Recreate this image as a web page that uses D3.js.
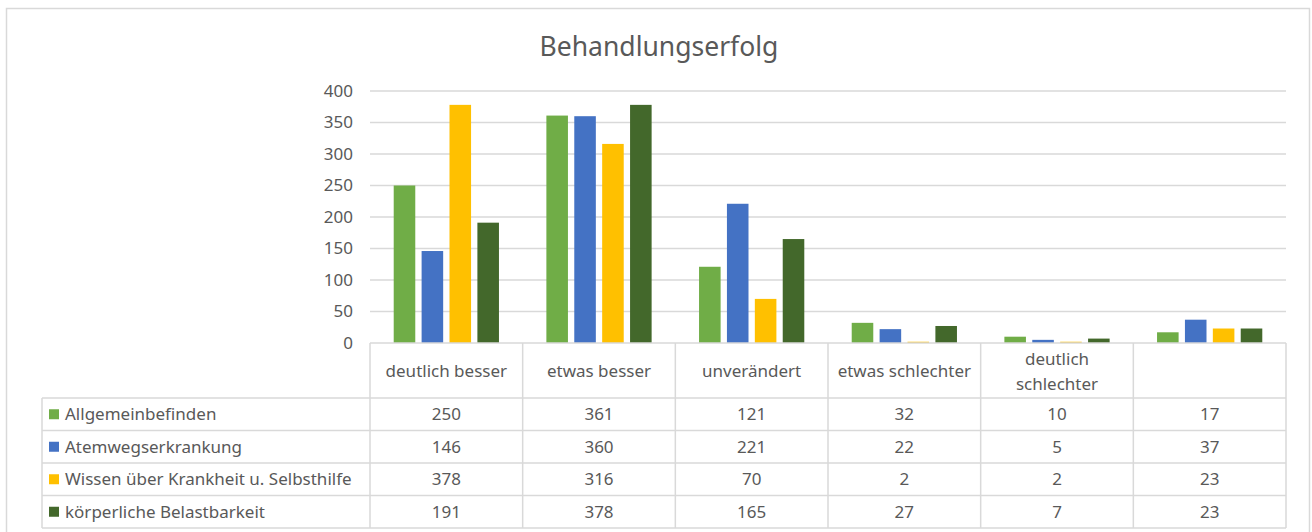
<!DOCTYPE html>
<html>
<head>
<meta charset="utf-8">
<script src="https://cdn.jsdelivr.net/npm/d3@7"></script>
<style>
  body { margin: 0; background: #fff; }
  svg { display: block; font-family: "Segoe UI", "Noto Sans", "Open Sans", sans-serif; }
</style>
</head>
<body>
<div id="chart"></div>
<script>
// Daten
const categories = ["deutlich besser", "etwas besser", "unverändert", "etwas schlechter", "deutlich schlechter", ""];
const seriesNames = ["Allgemeinbefinden", "Atemwegserkrankung", "Wissen über Krankheit u. Selbsthilfe", "körperliche Belastbarkeit"];
const allgemein = [250, 361, 121, 32, 10, 17];
const atemweg = [146, 360, 221, 22, 5, 37];
const wissen = [378, 316, 70, 2, 2, 23];
const koerperlich = [191, 378, 165, 27, 7, 23];
const yTicks = [0, 50, 100, 150, 200, 250, 300, 350, 400];
const colors = ["#70AD47", "#4472C4", "#FFC000", "#43682B"];

const seriesValues = [allgemein, atemweg, wissen, koerperlich];

const width = 1312;
const height = 532;
const plot = { left: 370, right: 1286, top: 91, bottom: 343 };
const tableBottom = 528;
const headerBottom = 398;
const legendLeft = 42;
const textColor = "#595959";
const lineColor = "#D9D9D9";
const fontSize = 17;

const svg = d3.select("#chart").append("svg")
  .attr("width", width)
  .attr("height", height);

// Rahmen
svg.append("rect")
  .attr("x", 6.5).attr("y", 8.5)
  .attr("width", 1303).attr("height", 560)
  .attr("fill", "#fff")
  .attr("stroke", lineColor)
  .attr("stroke-width", 1.5);

// Titel
svg.append("text")
  .attr("x", 659).attr("y", 56)
  .attr("text-anchor", "middle")
  .attr("fill", textColor)
  .attr("font-size", 26.5)
  .text("Behandlungserfolg");

// Skalen
const x0 = d3.scaleBand()
  .domain(d3.range(categories.length))
  .range([plot.left, plot.right])
  .padding(0);

const x1 = d3.scaleBand()
  .domain(d3.range(seriesNames.length))
  .range([0, x0.bandwidth()])
  .paddingInner(0.227)
  .paddingOuter(0.85);

const y = d3.scaleLinear()
  .domain([0, 400])
  .range([plot.bottom, plot.top]);

// Gitterlinien
svg.append("g")
  .selectAll("line")
  .data(yTicks.filter(d => d > 0))
  .join("line")
  .attr("x1", plot.left).attr("x2", plot.right)
  .attr("y1", d => y(d)).attr("y2", d => y(d))
  .attr("stroke", lineColor)
  .attr("stroke-width", 1.5);

// Y-Achse
const yAxis = svg.append("g")
  .attr("transform", `translate(${plot.left - 17},0)`)
  .call(d3.axisLeft(y).tickValues(yTicks).tickSize(0).tickPadding(0));
yAxis.select(".domain").remove();
yAxis.selectAll("text")
  .attr("fill", textColor)
  .attr("font-size", fontSize)
  .attr("font-family", "\"Segoe UI\", \"Noto Sans\", sans-serif");

// Balken
const groups = svg.append("g")
  .selectAll("g")
  .data(categories.map((c, i) => i))
  .join("g")
  .attr("transform", i => `translate(${x0(i)},0)`);

groups.selectAll("rect")
  .data(i => seriesValues.map((vals, s) => ({ s, v: vals[i] })))
  .join("rect")
  .attr("x", d => x1(d.s))
  .attr("y", d => y(d.v))
  .attr("width", x1.bandwidth())
  .attr("height", d => y(0) - y(d.v))
  .attr("fill", d => colors[d.s]);

// Datentabelle
const rowY = d3.scaleBand()
  .domain(d3.range(seriesNames.length))
  .range([headerBottom, tableBottom]);

const table = svg.append("g")
  .attr("stroke", lineColor)
  .attr("stroke-width", 1.5);

// horizontale Linien
table.append("line")
  .attr("x1", plot.left).attr("x2", plot.right)
  .attr("y1", plot.bottom).attr("y2", plot.bottom);
table.selectAll(".hrow")
  .data(d3.range(seriesNames.length + 1))
  .join("line")
  .attr("x1", legendLeft).attr("x2", plot.right)
  .attr("y1", i => headerBottom + i * rowY.step())
  .attr("y2", i => headerBottom + i * rowY.step());

// vertikale Linien
table.selectAll(".vcol")
  .data(d3.range(categories.length + 1))
  .join("line")
  .attr("x1", i => plot.left + i * x0.step())
  .attr("x2", i => plot.left + i * x0.step())
  .attr("y1", plot.bottom).attr("y2", tableBottom);
table.append("line")
  .attr("x1", legendLeft).attr("x2", legendLeft)
  .attr("y1", headerBottom).attr("y2", tableBottom);

// Kopfzeile
const header = svg.append("g")
  .attr("fill", textColor)
  .attr("font-size", fontSize)
  .attr("text-anchor", "middle");

header.selectAll("text")
  .data(categories.map((c, i) => ({ c, i })))
  .join("text")
  .attr("x", d => x0(d.i) + x0.bandwidth() / 2)
  .each(function(d) {
    const t = d3.select(this);
    const mid = (plot.bottom + headerBottom) / 2 + 1;
    t.text(d.c);
    if (this.getComputedTextLength() > x0.bandwidth() - 12) {
      const words = d.c.split(" ");
      t.text(null);
      words.forEach((w, k) => {
        t.append("tspan")
          .attr("x", x0(d.i) + x0.bandwidth() / 2)
          .attr("y", mid + (k - (words.length - 1) / 2) * 25)
          .attr("dy", "0.35em")
          .text(w);
      });
    } else {
      t.attr("y", mid).attr("dy", "0.35em");
    }
  });

// Legende in der Tabelle
const legendRows = svg.append("g")
  .selectAll("g")
  .data(seriesNames.map((n, s) => ({ n, s })))
  .join("g")
  .attr("transform", d => `translate(0,${rowY(d.s) + rowY.bandwidth() / 2})`);

legendRows.append("rect")
  .attr("x", 49).attr("y", -5)
  .attr("width", 10).attr("height", 10)
  .attr("fill", d => colors[d.s]);

legendRows.append("text")
  .attr("x", 65)
  .attr("dy", "0.35em")
  .attr("fill", textColor)
  .attr("font-size", fontSize)
  .text(d => d.n);

// Werte
legendRows.selectAll(".val")
  .data(d => seriesValues[d.s].map((v, i) => ({ v, i })))
  .join("text")
  .attr("x", d => x0(d.i) + x0.bandwidth() / 2)
  .attr("dy", "0.35em")
  .attr("text-anchor", "middle")
  .attr("fill", textColor)
  .attr("font-size", fontSize)
  .text(d => d.v);
</script>
</body>
</html>
